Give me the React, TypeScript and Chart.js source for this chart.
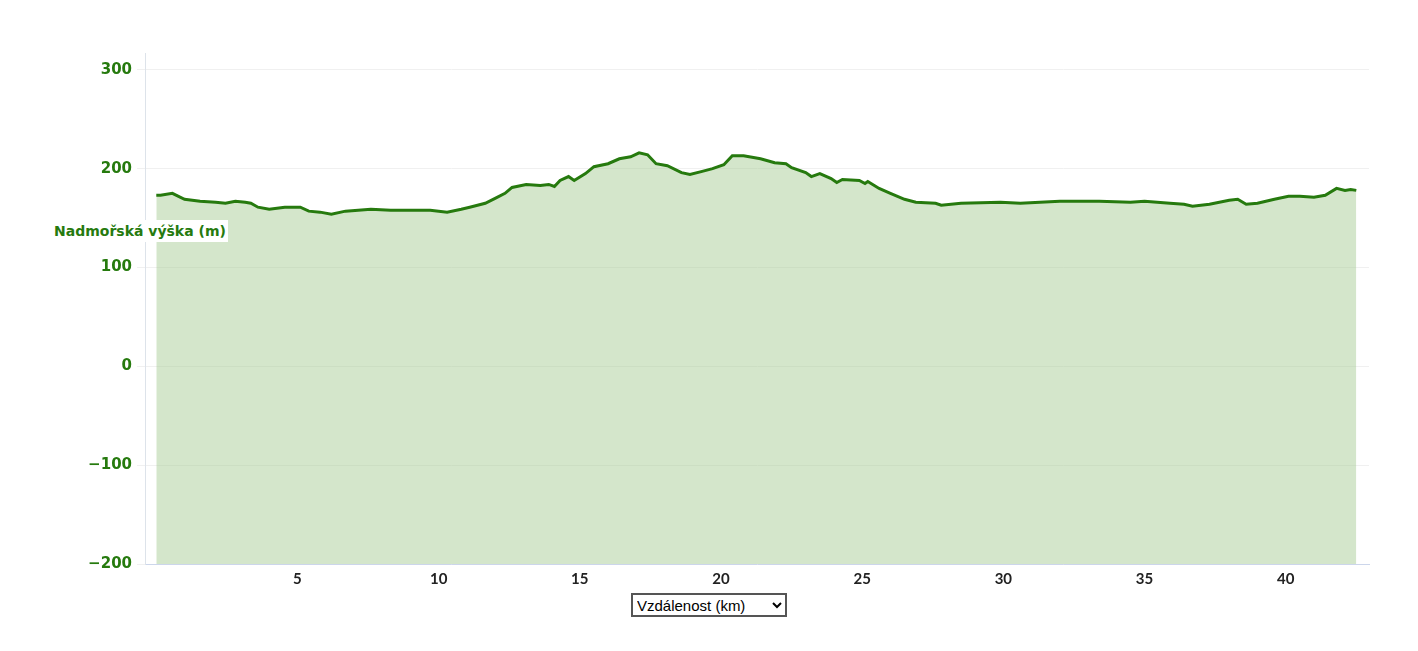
import { useEffect, useRef } from "react"
import { Chart, registerables } from "chart.js"

Chart.register(...registerables)

// distance along the route (km) and elevation (m)
const distanceKm = [
  0, 0.15, 0.57, 1.0, 1.55, 2.1, 2.45, 2.8, 3.15, 3.35, 3.6, 4.0, 4.55, 5.1, 5.4, 5.8, 6.2, 6.7,
  7.6, 8.3, 9.0, 9.7, 10.3, 10.8, 11.1, 11.65, 12.0, 12.35, 12.6, 13.1, 13.6, 13.9, 14.1, 14.3,
  14.6, 14.8, 15.2, 15.5, 16.0, 16.4, 16.8, 17.1, 17.4, 17.7, 18.1, 18.6, 18.9, 19.3, 19.7, 20.1,
  20.4, 20.8, 21.4, 21.9, 22.3, 22.5, 23.0, 23.2, 23.5, 23.9, 24.1, 24.3, 24.9, 25.1, 25.2, 25.6,
  26.0, 26.5, 26.9, 27.6, 27.8, 28.5, 29.9, 30.6, 31.3, 32.0, 33.4, 34.5, 35.0, 35.9, 36.4, 36.7,
  37.3, 38.0, 38.3, 38.6, 39.0, 39.6, 40.1, 40.5, 41.0, 41.4, 41.8, 42.1, 42.3, 42.5,
]

const elevationM = [
  173, 173, 175, 169, 167, 166, 165, 167, 166, 165, 161, 159, 161, 161, 157, 156, 154, 157,
  159, 158, 158, 158, 156, 159, 161, 165, 170, 175, 181, 184, 183, 184, 182, 188,
  192, 188, 195, 202, 205, 210, 212, 216, 214, 205, 203, 196, 194, 197, 200, 204,
  213, 213, 210, 206, 205, 201, 196, 192, 195, 190, 186, 189, 188, 185, 187, 180,
  175, 169, 166, 165, 163, 165, 166, 165, 166, 167, 167, 166, 167, 165, 164, 162,
  164, 168, 169, 164, 165, 169, 172, 172, 171, 173, 180, 178, 179, 178,
]

const yTicks = [-200, -100, 0, 100, 200, 300]
const xTicks = [5, 10, 15, 20, 25, 30, 35, 40]

const GREEN = "#267a0e"

export default function App() {
  const canvasRef = useRef<HTMLCanvasElement>(null)

  useEffect(() => {
    if (!canvasRef.current) return
    const chart = new Chart(canvasRef.current, {
      type: "line",
      data: {
        datasets: [
          {
            label: "Nadmořská výška",
            data: distanceKm.map((d, i) => ({ x: d, y: elevationM[i] })),
            borderColor: GREEN,
            borderWidth: 3,
            backgroundColor: "rgba(160, 200, 140, 0.45)",
            fill: "start",
            pointRadius: 0,
            tension: 0,
          },
        ],
      },
      options: {
        animation: false,
        responsive: true,
        maintainAspectRatio: false,
        layout: { padding: { left: 0, top: 45, right: 41, bottom: 0 } },
        plugins: { legend: { display: false }, tooltip: { enabled: false } },
        scales: {
          x: {
            type: "linear",
            min: -0.4,
            max: 42.95,
            afterBuildTicks: (axis) => {
              axis.ticks = xTicks.map((v) => ({ value: v }))
            },
            afterFit: (axis) => {
              axis.height = 24
            },
            grid: { drawOnChartArea: false, drawTicks: false },
            border: { color: "#ccd6eb", width: 1 },
            ticks: {
              padding: 6,
              color: "#222222",
              font: { family: "Lato, sans-serif", size: 15, weight: "bold" },
              maxRotation: 0,
            },
          },
          y: {
            min: -200,
            max: 317,
            afterBuildTicks: (axis) => {
              axis.ticks = yTicks.map((v) => ({ value: v }))
            },
            afterFit: (axis) => {
              axis.width = 137
            },
            grid: { color: "#f0f0f0", tickLength: 8 },
            border: { color: "#dde3ea", width: 1 },
            ticks: {
              padding: 5,
              color: GREEN,
              font: { family: "'DejaVu Sans', sans-serif", size: 15, weight: "bold" },
              callback: (v) => (Number(v) < 0 ? "\u2212" + Math.abs(Number(v)) : String(v)),
            },
          },
        },
      },
    })
    return () => chart.destroy()
  }, [])

  return (
    <div style={{ width: 1402 }}>
      <div style={{ position: "relative", width: 1402, height: 580 }}>
        <canvas ref={canvasRef} />
        <div
          style={{
            position: "absolute",
            left: 44,
            top: 212,
            background: "#ffffff",
            padding: "3px 2px",
            color: GREEN,
            font: "bold 14px 'DejaVu Sans', sans-serif",
          }}
        >
          Nadmořská výška (m)
        </div>
      </div>
      <div style={{ textAlign: "center", marginTop: 5 }}>
        <select
          defaultValue="km"
          style={{
            font: "15px 'Liberation Sans', Arial, sans-serif",
            border: "2px solid #555555",
            borderRadius: 0,
            height: 24,
            width: 156,
            background: "#ffffff",
            color: "#000000",
          }}
        >
          <option value="km">Vzdálenost (km)</option>
        </select>
      </div>
    </div>
  )
}
